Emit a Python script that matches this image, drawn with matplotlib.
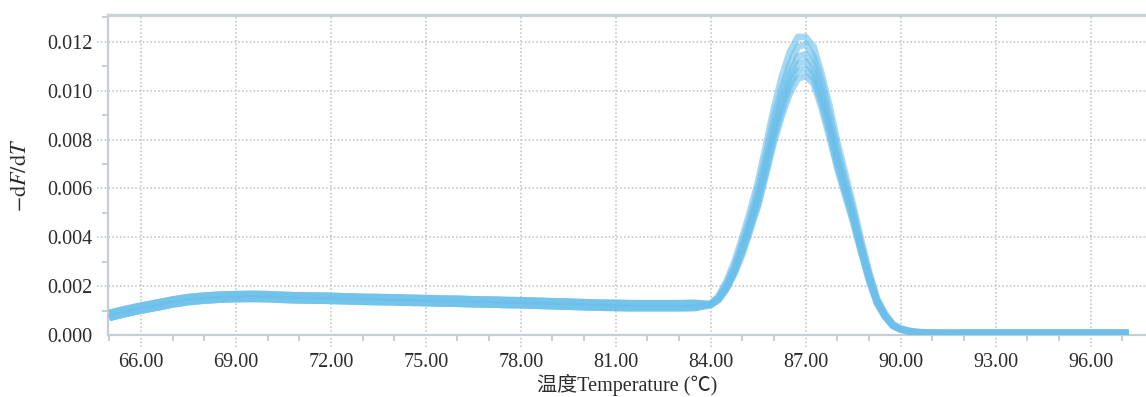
import matplotlib
matplotlib.use("Agg")
from matplotlib import pyplot
from matplotlib import ticker

# temperature grid (deg C)
temp_base = [65.0, 65.5, 66.0, 66.5, 67.0, 67.5, 68.0, 68.5, 69.0, 69.5,
             70.0, 70.5, 71.0, 71.5, 72.0, 72.5, 73.0, 73.5, 74.0, 74.5,
             75.0, 75.5, 76.0, 76.5, 77.0, 77.5, 78.0, 78.5, 79.0, 79.5,
             80.0, 80.5, 81.0, 81.5, 82.0, 82.5, 83.0, 83.5]
temp_peak = [84.0, 84.25, 84.5, 84.75, 85.0, 85.25, 85.5, 85.75, 86.0, 86.25,
             86.5, 86.75, 87.0, 87.25, 87.5, 87.75, 88.0, 88.25, 88.5, 88.75,
             89.0, 89.25, 89.5, 89.75, 90.0, 90.25, 90.5, 90.75, 91.0]
temp_tail = [92.0, 97.2]

# baseline part of the melt curves (upper and lower edge of the bundle)
base_hi = [0.00090, 0.00106, 0.00120, 0.00132, 0.00145, 0.00155, 0.00161, 0.00165,
           0.00167, 0.00168, 0.00167, 0.00164, 0.00162, 0.00161, 0.00160, 0.00158,
           0.00156, 0.00155, 0.00154, 0.00152, 0.00151, 0.00149, 0.00148, 0.00146,
           0.00145, 0.00143, 0.00142, 0.00140, 0.00138, 0.00136, 0.00134, 0.00132,
           0.00131, 0.00130, 0.00130, 0.00130, 0.00130, 0.00131]
base_lo = [0.00070, 0.00086, 0.00100, 0.00112, 0.00125, 0.00135, 0.00141, 0.00145,
           0.00147, 0.00148, 0.00147, 0.00144, 0.00142, 0.00141, 0.00140, 0.00138,
           0.00136, 0.00135, 0.00134, 0.00132, 0.00131, 0.00129, 0.00128, 0.00126,
           0.00125, 0.00123, 0.00122, 0.00120, 0.00118, 0.00116, 0.00114, 0.00112,
           0.00111, 0.00110, 0.00110, 0.00110, 0.00110, 0.00111]

# melting peak of the replicate wells
peak_1 = [0.00128, 0.0016, 0.0022, 0.0030, 0.0040, 0.0051, 0.0063, 0.0078, 0.0093, 0.0106,
          0.0116, 0.0122, 0.0122, 0.0118, 0.0107, 0.0094, 0.0079, 0.0066, 0.0053, 0.0039,
          0.0026, 0.0015, 0.0009, 0.00045, 0.00027, 0.00018, 0.00013, 0.00011, 0.0001]
peak_2 = [0.00126, 0.00155, 0.0021, 0.0028, 0.0038, 0.0048, 0.0060, 0.0074, 0.0089, 0.0101,
          0.0111, 0.0118, 0.0119, 0.0114, 0.0104, 0.0090, 0.0076, 0.0063, 0.0051, 0.0037,
          0.0025, 0.00145, 0.00083, 0.00042, 0.00025, 0.00017, 0.00012, 0.0001, 0.00009]
peak_3 = [0.00125, 0.0015, 0.0020, 0.0027, 0.0036, 0.0046, 0.0057, 0.0071, 0.0085, 0.0097,
          0.0107, 0.0114, 0.0115, 0.0110, 0.0100, 0.0087, 0.0073, 0.0061, 0.0049, 0.0036,
          0.0024, 0.0014, 0.0008, 0.0004, 0.00024, 0.00016, 0.00012, 0.0001, 0.00009]
peak_4 = [0.00124, 0.00148, 0.0019, 0.0026, 0.0035, 0.0045, 0.0056, 0.0069, 0.0083, 0.0095,
          0.0104, 0.0111, 0.0112, 0.0107, 0.0097, 0.0085, 0.0071, 0.0059, 0.0048, 0.0035,
          0.0023, 0.00135, 0.00078, 0.00039, 0.00023, 0.00015, 0.00011, 0.00009, 0.00008]
peak_5 = [0.00123, 0.00145, 0.0019, 0.0026, 0.0034, 0.0044, 0.0054, 0.0067, 0.0081, 0.0092,
          0.0102, 0.0108, 0.0109, 0.0105, 0.0095, 0.0083, 0.0069, 0.0058, 0.0047, 0.0034,
          0.0023, 0.0013, 0.00076, 0.00038, 0.00022, 0.00015, 0.00011, 0.00009, 0.00008]
peak_6 = [0.00122, 0.00143, 0.0019, 0.0025, 0.0033, 0.0043, 0.0053, 0.0066, 0.0079, 0.0090,
          0.0099, 0.0105, 0.0106, 0.0103, 0.0093, 0.0081, 0.0068, 0.0057, 0.0046, 0.0034,
          0.0022, 0.0013, 0.00075, 0.00037, 0.00022, 0.00014, 0.0001, 0.00008, 0.00007]
tail_hi = [0.0001, 0.0001]
tail_lo = [0.00006, 0.00006]

x_ticks = [66, 69, 72, 75, 78, 81, 84, 87, 90, 93, 96]
y_ticks = [0.000, 0.002, 0.004, 0.006, 0.008, 0.010, 0.012]

pyplot.rcParams["font.family"] = ["Liberation Serif", "Noto Sans CJK SC", "DejaVu Sans"]
pyplot.rcParams["mathtext.fontset"] = "stix"

line_color = "#6bbfea"
grid_color = "#b9c0c8"
spine_color = "#c8cdd3"
text_color = "#2b2b2b"

fig = pyplot.figure(figsize=(11.46, 3.97), dpi=100)
ax = fig.add_axes([108 / 1146, 1 - 335 / 397, 1 - 108 / 1146, 320 / 397])

# replicate curves: baseline + peak + tail
curves = [(base_hi, peak_1, tail_hi), (base_lo, peak_2, tail_lo), (base_hi, peak_3, tail_hi),
          (base_lo, peak_4, tail_lo), (base_hi, peak_5, tail_hi), (base_lo, peak_6, tail_lo)]
for base, peak, tail in curves:
    ax.plot(temp_base + temp_peak + temp_tail, base + peak + tail, color=line_color,
            lw=4.8, alpha=0.6, solid_capstyle="butt", solid_joinstyle="round", zorder=3)

ax.set_xlim(64.96, 97.75)
ax.set_ylim(0, 0.0131)

# dotted grid, extended outside the frame like tick marks
for yv in y_ticks[1:]:
    ax.plot([-0.011, 1], [yv, yv], transform=ax.get_yaxis_transform(), ls=(0, (1, 1.5)),
            color=grid_color, lw=1.1, clip_on=False, zorder=1)
for xv in x_ticks:
    ax.plot([xv, xv], [-0.037, 1], transform=ax.get_xaxis_transform(), ls=(0, (1, 1.5)),
            color=grid_color, lw=1.1, clip_on=False, zorder=1)

ax.xaxis.set_major_locator(ticker.FixedLocator(x_ticks))
ax.xaxis.set_minor_locator(ticker.MultipleLocator(1))
ax.yaxis.set_major_locator(ticker.FixedLocator(y_ticks))
ax.yaxis.set_minor_locator(ticker.MultipleLocator(0.001))
ax.xaxis.set_major_formatter(ticker.FormatStrFormatter("%.2f"))
ax.yaxis.set_major_formatter(ticker.FormatStrFormatter("%.3f"))

ax.tick_params(which="major", length=0, labelsize=14.5, labelcolor=text_color)
ax.tick_params(axis="y", which="major", pad=11)
ax.tick_params(axis="x", which="major", pad=13)
ax.tick_params(which="minor", length=4.5, width=1.4, color=spine_color, direction="out")

for side in ["left", "bottom"]:
    ax.spines[side].set_color(spine_color)
    ax.spines[side].set_linewidth(1.6)
ax.spines["top"].set_color("#cdd2d7")
ax.spines["top"].set_linewidth(2.4)
ax.spines["right"].set_visible(False)

ax.set_xlabel("温度Temperature (℃)", fontsize=14.5, color=text_color, labelpad=1)
ax.set_ylabel(r"$-\mathrm{d}F/\mathrm{d}T$", fontsize=16, color=text_color, labelpad=12)

pyplot.savefig("out.png", dpi=100)
